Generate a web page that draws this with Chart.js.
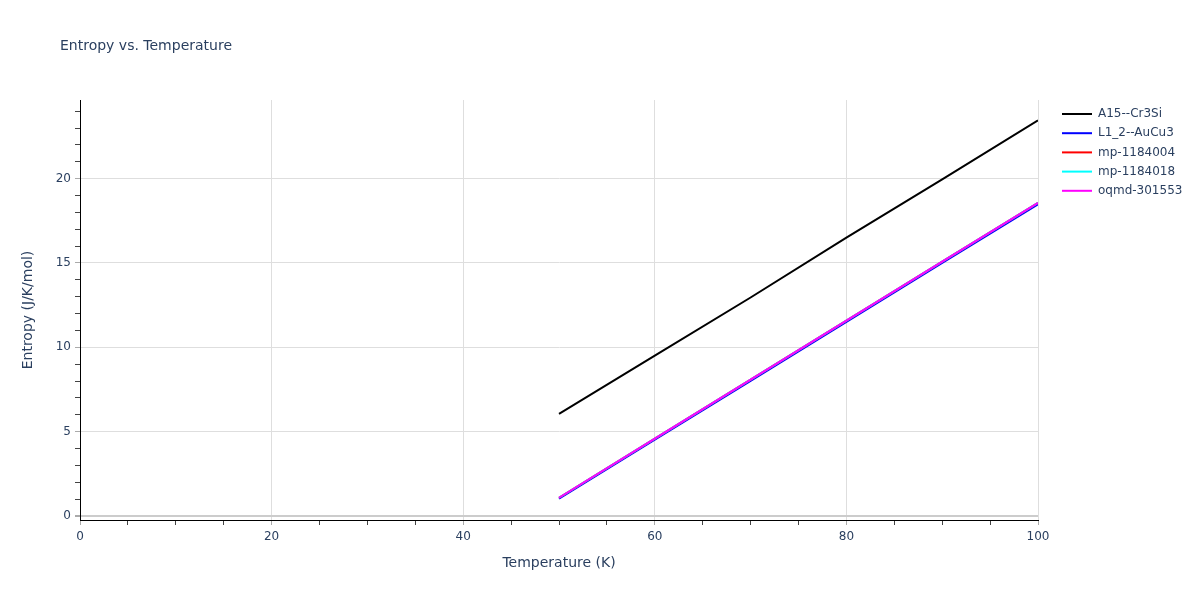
<!DOCTYPE html>
<html>
<head>
<meta charset="utf-8">
<title>Entropy vs. Temperature</title>
<script src="https://cdn.jsdelivr.net/npm/chart.js@4.4.1/dist/chart.umd.min.js"></script>
<style>
  html, body { margin: 0; padding: 0; background: #fff; }
  #wrap { width: 1200px; height: 600px; }
</style>
</head>
<body>
<div id="wrap"><canvas id="entropy-chart" width="1200" height="600"></canvas></div>
<script>
// Temperatures (K)
const temperatures = [50, 60, 70, 80, 90, 100];

// Entropy values (J/K/mol)
const a15Cr3Si = [6.05, 9.5, 12.95, 16.5, 19.95, 23.45];
const l12AuCu3 = [1.02, 4.52, 8.0, 11.5, 15.0, 18.48];
const mp1184004 = [1.08, 4.58, 8.08, 11.58, 15.08, 18.56];
const mp1184018 = [1.08, 4.58, 8.08, 11.58, 15.08, 18.56];
const oqmd301553 = [1.08, 4.58, 8.08, 11.58, 15.08, 18.56];

const seriesNames = ["A15--Cr3Si", "L1_2--AuCu3", "mp-1184004", "mp-1184018", "oqmd-301553"];
const seriesColors = ["#000000", "#0000ff", "#ff0000", "#00ffff", "#ff00ff"];
const seriesValues = [a15Cr3Si, l12AuCu3, mp1184004, mp1184018, oqmd301553];

const textColor = "#2a3f5f";
const fontFamily = "'DejaVu Sans', Verdana, sans-serif";

// Title, axis titles and legend drawn by hand (plotly-like placement)
const decorations = {
  id: "decorations",
  afterDraw(chart) {
    const c = chart.ctx;
    const area = chart.chartArea;
    c.save();
    c.fillStyle = textColor;

    // title
    c.font = "14px " + fontFamily;
    c.textAlign = "left";
    c.textBaseline = "alphabetic";
    c.fillText("Entropy vs. Temperature", 60, 50);

    // axis titles
    c.font = "14px " + fontFamily;
    c.textAlign = "center";
    c.textBaseline = "middle";
    c.fillText("Temperature (K)", (area.left + area.right) / 2, 563);
    c.translate(28, (area.top + area.bottom) / 2);
    c.rotate(-Math.PI / 2);
    c.fillText("Entropy (J/K/mol)", 0, 0);
    c.restore();

    // legend
    c.save();
    c.font = "12px " + fontFamily;
    c.textAlign = "left";
    c.textBaseline = "middle";
    chart.data.datasets.forEach((ds, i) => {
      const y = 114 + i * 19.2;
      c.strokeStyle = ds.borderColor;
      c.lineWidth = 2;
      c.beginPath();
      c.moveTo(1062, y);
      c.lineTo(1092, y);
      c.stroke();
      c.fillStyle = textColor;
      c.fillText(ds.label, 1098, y);
    });
    c.restore();
  },
};

const ctx = document.getElementById("entropy-chart").getContext("2d");
const entropyChart = new Chart(ctx, {
  type: "line",
  data: {
    datasets: seriesNames.map((name, i) => ({
      label: name,
      data: temperatures.map((t, j) => ({ x: t, y: seriesValues[i][j] })),
      borderColor: seriesColors[i],
      backgroundColor: seriesColors[i],
      borderWidth: 2,
      pointRadius: 0,
      tension: 0,
      fill: false,
      // later series painted on top, like the original
      order: seriesNames.length - i,
    })),
  },
  options: {
    responsive: false,
    animation: false,
    layout: { padding: { left: 0, top: 100, right: 162, bottom: 0 } },
    plugins: {
      legend: { display: false },
      title: { display: false },
      tooltip: { enabled: false },
    },
    scales: {
      x: {
        type: "linear",
        min: 0,
        max: 100,
        afterFit: (scale) => { scale.height = 80; },
        ticks: {
          stepSize: 5,
          autoSkip: false,
          maxRotation: 0,
          padding: 5,
          color: textColor,
          font: { family: fontFamily, size: 12 },
          callback: (v) => (v % 20 === 0 ? v : ""),
        },
        grid: {
          color: (c) => (c.tick && c.tick.value % 20 === 0 ? "#dedede" : "rgba(0,0,0,0)"),
          tickColor: (c) => (c.tick && c.tick.value % 20 === 0 ? "#aaaaaa" : "#444444"),
          tickLength: 5,
          lineWidth: 1,
        },
        border: { color: "#000000", width: 1 },
      },
      y: {
        type: "linear",
        min: -0.24,
        max: 24.66,
        afterFit: (scale) => { scale.width = 80; },
        ticks: {
          stepSize: 1,
          includeBounds: false,
          autoSkip: false,
          padding: 4,
          color: textColor,
          font: { family: fontFamily, size: 12 },
          callback: (v) => (Math.abs(v % 5) < 1e-9 ? v : ""),
        },
        grid: {
          color: (c) => {
            if (!c.tick) return "rgba(0,0,0,0)";
            if (Math.abs(c.tick.value) < 1e-9) return "#cccccc";
            return Math.abs(c.tick.value % 5) < 1e-9 ? "#dedede" : "rgba(0,0,0,0)";
          },
          lineWidth: (c) => (c.tick && Math.abs(c.tick.value) < 1e-9 ? 2 : 1),
          tickColor: (c) => (c.tick && Math.abs(c.tick.value % 5) < 1e-9 ? "#aaaaaa" : "#444444"),
          tickLength: 5,
        },
        border: { color: "#000000", width: 1 },
      },
    },
  },
  plugins: [decorations],
});
</script>
</body>
</html>
